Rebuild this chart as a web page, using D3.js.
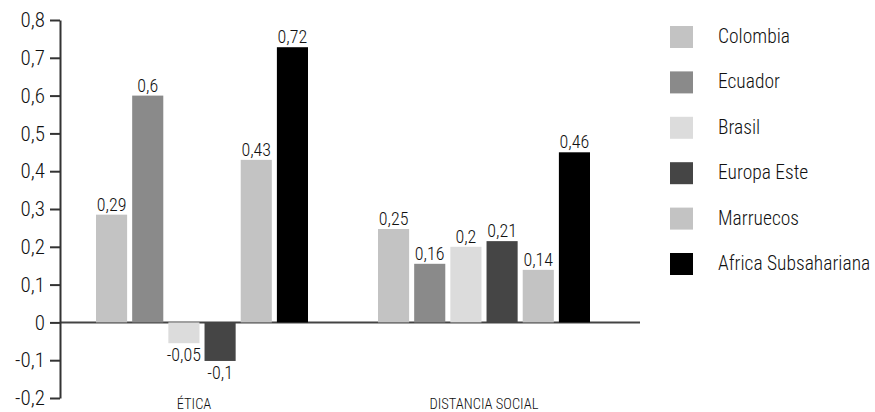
<!DOCTYPE html>
<html><head><meta charset="utf-8">
<script src="https://cdn.jsdelivr.net/npm/d3@7"></script>
<style>
body{margin:0;background:#fff;}
text{font-family:"Roboto Condensed","Liberation Sans Narrow",Roboto,sans-serif;font-weight:300;fill:#111;}
</style></head><body>
<svg id="c" width="875" height="412"></svg>
<script>
const categories = ["ÉTICA", "DISTANCIA SOCIAL"];
const seriesNames = ["Colombia", "Ecuador", "Brasil", "Europa Este", "Marruecos", "Africa Subsahariana"];
const colors = ["#c3c3c3", "#8a8a8a", "#dcdcdc", "#454545", "#c3c3c3", "#000000"];
// bar heights as drawn in the picture
const etica = [0.285, 0.6, -0.055, -0.102, 0.43, 0.728];
const distancia = [0.247, 0.155, 0.2, 0.215, 0.139, 0.45];
// printed value labels
const eticaLabels = ["0,29", "0,6", "-0,05", "-0,1", "0,43", "0,72"];
const distanciaLabels = ["0,25", "0,16", "0,2", "0,21", "0,14", "0,46"];
const values = [etica, distancia];
const labels = [eticaLabels, distanciaLabels];
const yTicks = [-0.2, -0.1, 0, 0.1, 0.2, 0.3, 0.4, 0.5, 0.6, 0.7, 0.8];

const svg = d3.select("#c");
const fmt = v => String(v).replace(".", ",");

const y = d3.scaleLinear().domain([-0.2, 0.8]).range([398, 20]);
const x0 = d3.scaleBand().domain(categories).range([61, 625]);
const x1 = d3.scaleBand().domain(seriesNames).range([35, 247]).paddingInner(0.14).paddingOuter(0);

svg.append("line").attr("x1", 60).attr("x2", 640).attr("y1", y(0)).attr("y2", y(0))
  .attr("stroke", "#444").attr("stroke-width", 2);

const yAxis = d3.axisLeft(y).tickValues(yTicks).tickSize(10).tickSizeOuter(0).tickPadding(5).tickFormat(fmt);
const ga = svg.append("g").attr("transform", "translate(60,0)").call(yAxis);
ga.attr("font-family", null);
ga.select(".domain").attr("stroke", "#333").attr("stroke-width", 2);
ga.selectAll(".tick line").attr("stroke", "#333").attr("stroke-width", 2);
ga.selectAll(".tick text").attr("font-size", 21).attr("fill", "#111");

categories.forEach((cat, ci) => {
  const g = svg.append("g").attr("transform", `translate(${x0(cat)},0)`);
  values[ci].forEach((v, si) => {
    const s = seriesNames[si];
    g.append("rect").attr("x", x1(s)).attr("width", x1.bandwidth())
      .attr("y", v >= 0 ? y(v) : y(0)).attr("height", Math.abs(y(v) - y(0)))
      .attr("fill", colors[si]);
    g.append("text").attr("x", x1(s) + x1.bandwidth() / 2)
      .attr("y", v >= 0 ? y(v) - 4 : y(v) + 18)
      .attr("text-anchor", "middle").attr("font-size", 18).text(labels[ci][si]);
  });
  svg.append("text").attr("x", x0(cat) + x0.bandwidth() / 2 - (ci === 0 ? 8 : 0)).attr("y", 409)
    .attr("text-anchor", "middle").attr("font-size", 14.5).text(cat);
});

const lg = svg.append("g");
seriesNames.forEach((s, i) => {
  lg.append("rect").attr("x", 670).attr("y", 26 + i * 45.4).attr("width", 23).attr("height", 22).attr("fill", colors[i]);
  lg.append("text").attr("x", 718).attr("y", 26 + i * 45.4 + 17).attr("font-size", 19.5).text(s);
});
</script></body></html>
